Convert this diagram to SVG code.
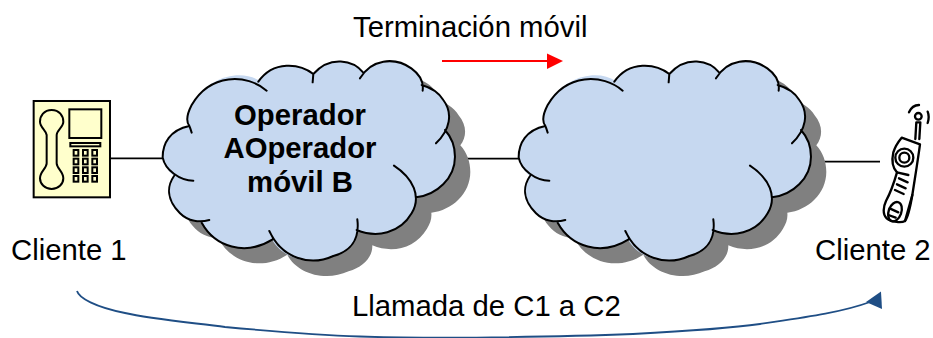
<svg xmlns="http://www.w3.org/2000/svg" xmlns:xlink="http://www.w3.org/1999/xlink" width="933" height="338" viewBox="0 0 933 338">
<style>
text{font-family:"Liberation Sans",Arial,sans-serif;font-size:29.3px;fill:#000}
.b{font-weight:bold;text-anchor:middle}
.ln{fill:none;stroke:#000;stroke-width:1.7}
.cs{fill:none;stroke:#000;stroke-width:6;stroke-linecap:round}
.ph{fill:none;stroke:#000;stroke-width:6}
.ky{fill:#ffffcc;stroke:#000;stroke-width:6}
.mb{fill:none;stroke:#000;stroke-width:7;stroke-linecap:round;stroke-linejoin:round}
</style>
<defs>
<path id="outline" d="M125,248C122,238 120,232 118,228C60,240 38,280 38,322C45,360 90,392 130,392M72,378C50,410 50,450 90,490C115,515 150,518 178,510M155,518C195,590 285,620 368,568M358,543C395,625 480,650 550,618C600,605 630,570 622,508M620,540C680,565 750,550 785,490C815,440 790,385 732,347M798,442C860,435 915,385 915,320C915,290 905,262 885,240M858,280C900,240 910,190 880,150C865,125 840,112 815,105M818,122C825,70 760,25 700,35C670,40 645,60 630,85M640,68C610,30 540,15 490,72M488,97L490,72C450,40 370,30 325,95M350,122C290,70 180,70 125,165C112,190 108,215 118,228"/>
<path id="body" d="M118,228C60,240 38,280 38,322C42,345 55,365 72,378C50,410 50,450 90,490C110,510 135,517 158,518C195,590 285,620 366,568C395,625 480,650 550,618C595,605 622,575 621,540C680,565 750,550 785,490C795,475 800,458 798,442C860,435 915,385 915,320C915,290 905,262 885,240C905,215 905,180 880,150C865,125 840,112 816,105C825,70 760,25 700,35C675,40 652,50 638,70C610,30 540,15 490,72C450,40 370,30 328,92C280,60 180,70 125,165C112,190 108,215 118,228Z"/>
<g id="cloud">
<use xlink:href="#body" transform="translate(46,46)" fill="#808080"/>
<use xlink:href="#body" fill="#c6d8f0"/>
<use xlink:href="#outline" class="cs"/>
</g>
</defs>
<g id="connectors">
<path class="ln" d="M110,158.3H164"/>
<path class="ln" d="M455,158.6H519"/>
<path class="ln" d="M811,161.7H880"/>
<path fill="none" stroke="#1f4e85" stroke-width="1.8" d="M77,291C79,298 95,307 125,313C150,319 195,323 225,327C280,332 320,335 360,336.500C420,339 560,337 633,334C690,331 725,329 760,324C800,318 840,313 870,302"/>
<polygon fill="#1f4e85" points="881,291.500 882,309 866,302"/>
<path fill="none" stroke="#ff0000" stroke-width="1.800" d="M442,61H548"/>
<polygon fill="#ff0000" points="547,53.500 563,61 547,69"/>
</g>
<g id="cloud-a" transform="translate(150,50) scale(0.3333)"><use xlink:href="#cloud"/></g>
<g id="cloud-b" transform="translate(506,50) scale(0.3333)"><use xlink:href="#cloud"/></g>
<g id="label-operador">
<text class="b" x="300" y="125">Operador</text>
<text class="b" x="300" y="158">AOperador</text>
<text class="b" x="300" y="192">móvil B</text>
</g>
<g id="cliente-1">
<g transform="translate(0,80) scale(0.3333)">
<rect x="101" y="63" width="229" height="289" fill="#ffffcc" stroke="#000" stroke-width="6"/>
<path class="ph" d="M155,90C132,90 120,108 120,125C120,142 138,150 140,165V250C140,265 120,275 120,295C120,312 135,327 155,327C175,327 190,312 190,295C190,275 170,265 170,250V165C170,150 190,142 190,125C190,108 178,90 155,90Z"/>
<rect class="ph" x="208" y="88" width="96" height="86"/>
<rect class="ph" x="211" y="189" width="90" height="10"/>
<g class="ky">
<rect x="221" y="210" width="14" height="17"/><rect x="249" y="210" width="14" height="17"/><rect x="277" y="210" width="14" height="17"/>
<rect x="221" y="236" width="14" height="17"/><rect x="249" y="236" width="14" height="17"/><rect x="277" y="236" width="14" height="17"/>
<rect x="221" y="262" width="14" height="17"/><rect x="249" y="262" width="14" height="17"/><rect x="277" y="262" width="14" height="17"/>
<rect x="221" y="288" width="14" height="17"/><rect x="249" y="288" width="14" height="17"/><rect x="277" y="288" width="14" height="17"/>
</g>
</g>
<text x="11" y="260">Cliente 1</text>
</g>
<g id="cliente-2">
<g transform="translate(875,95) scale(0.3333)" class="mb">
<path d="M80,128L135,148C128,200 118,260 112,300C106,335 100,365 90,378C80,384 50,382 35,370C22,358 25,335 33,318C48,290 58,260 66,232C52,218 50,195 55,172C60,155 70,140 80,128Z" fill="#fff"/>
<path d="M66,232L100,240M112,300L90,378"/>
<circle cx="88" cy="188" r="27"/><circle cx="88" cy="188" r="15"/>
<path d="M72,250L98,262M66,268L92,280M60,285L86,297"/>
<ellipse cx="60" cy="350" rx="19" ry="30" transform="rotate(20 60 350)"/>
<path d="M44,340L70,352M40,360L62,368"/>
<path d="M121,132L124,82L136,82L133,132"/>
<circle cx="130" cy="64" r="10"/>
<path d="M102,52C108,38 120,30 132,30M158,50C162,60 162,72 158,84"/>
</g>
<text x="815" y="260">Cliente 2</text>
</g>
<g id="labels">
<text x="353" y="37">Terminación móvil</text>
<text x="352" y="316">Llamada de C1 a C2</text>
</g>
</svg>
